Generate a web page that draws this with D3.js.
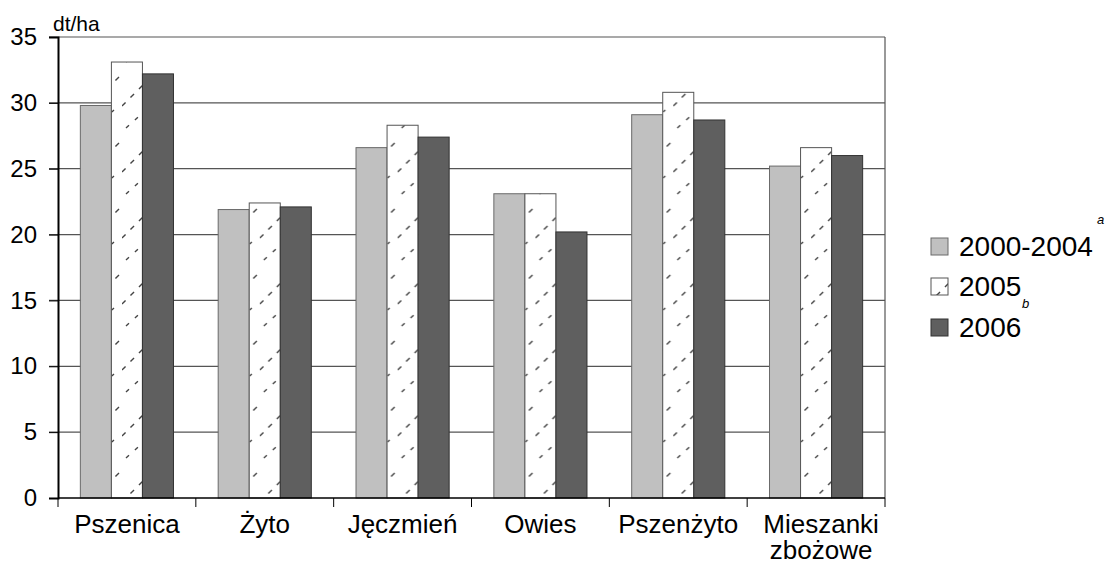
<!DOCTYPE html>
<html>
<head>
<meta charset="utf-8">
<script src="https://cdn.jsdelivr.net/npm/d3@7"></script>
<style>
  body { margin: 0; background: #fff; }
  text { font-family: "Liberation Sans", Arial, sans-serif; fill: #000; }
</style>
</head>
<body>
<svg id="chart" width="1109" height="564"></svg>
<script>
const categories = ['Pszenica', 'Żyto', 'Jęczmień', 'Owies', 'Pszenżyto', 'Mieszanki zbożowe'];
const series = ['2000-2004', '2005', '2006'];
const avg0004 = [29.8, 21.9, 26.6, 23.1, 29.1, 25.2];
const y2005 = [33.1, 22.4, 28.3, 23.1, 30.8, 26.6];
const y2006 = [32.2, 22.1, 27.4, 20.2, 28.7, 26.0];
const yTicks = [0, 5, 10, 15, 20, 25, 30, 35];

const values = [avg0004, y2005, y2006];
const fills = ['#c0c0c0', 'url(#hatch)', '#5f5f5f'];
const strokes = ['#6a6a6a', '#555', '#333'];

const svg = d3.select('#chart');
const plotL = 58, plotR = 885, plotT = 37, plotB = 498;

// hatch pattern for the 2005 series
const defs = svg.append('defs');
const pat = defs.append('pattern').attr('id', 'hatch')
    .attr('patternUnits', 'userSpaceOnUse')
    .attr('width', 32).attr('height', 66);
pat.append('rect').attr('width', 32).attr('height', 66).attr('fill', '#fff');
pat.append('line').attr('x1', 0).attr('y1', 40).attr('x2', 30).attr('y2', 10)
    .attr('stroke', '#444').attr('stroke-width', 1.4).attr('stroke-dasharray', '5,7');
pat.append('line').attr('x1', 4).attr('y1', 62).attr('x2', 24).attr('y2', 44)
    .attr('stroke', '#444').attr('stroke-width', 1.4).attr('stroke-dasharray', '4,8');

const x0 = d3.scaleBand().domain(categories).range([plotL, plotR]);
const x1 = d3.scaleBand().domain(series).range([0, x0.bandwidth()]).paddingOuter(0.72);
const y = d3.scaleLinear().domain([0, 35]).range([plotB, plotT]);

// gridlines
svg.append('g').selectAll('line').data(yTicks.filter(d => d > 0)).join('line')
    .attr('x1', plotL - 9).attr('x2', plotR)
    .attr('y1', d => y(d)).attr('y2', d => y(d))
    .attr('stroke', '#555').attr('stroke-width', 1.2);

// right border of plot
svg.append('line').attr('x1', plotR).attr('x2', plotR).attr('y1', plotT).attr('y2', plotB)
    .attr('stroke', '#555').attr('stroke-width', 1.2);

// bars
const groups = svg.append('g').selectAll('g').data(categories).join('g')
    .attr('transform', d => `translate(${x0(d)},0)`);
groups.selectAll('rect').data((c, i) => series.map((s, j) => ({s, j, v: values[j][i]}))).join('rect')
    .attr('x', d => x1(d.s))
    .attr('width', x1.bandwidth())
    .attr('y', d => y(d.v))
    .attr('height', d => y(0) - y(d.v))
    .attr('fill', d => fills[d.j])
    .attr('stroke', d => strokes[d.j])
    .attr('stroke-width', 1);

// y axis
const yAxis = svg.append('g').attr('transform', `translate(${plotL},0)`)
    .call(d3.axisLeft(y).tickValues(yTicks).tickSize(9).tickPadding(12));
yAxis.select('.domain').attr('stroke', '#000').attr('stroke-width', 2);
yAxis.selectAll('.tick line').attr('stroke', '#000');
yAxis.selectAll('.tick text').attr('font-size', 24).attr('font-family', '"Liberation Sans", Arial, sans-serif');

// x axis
svg.append('line').attr('x1', plotL).attr('x2', plotR).attr('y1', plotB).attr('y2', plotB)
    .attr('stroke', '#000').attr('stroke-width', 1.5);
const bounds = categories.map(c => x0(c)).concat([plotR]);
svg.append('g').selectAll('line').data(bounds).join('line')
    .attr('x1', d => d).attr('x2', d => d).attr('y1', plotB).attr('y2', plotB + 9)
    .attr('stroke', '#000');
const xl = svg.append('g').selectAll('text').data(categories).join('text')
    .attr('x', d => x0(d) + x0.bandwidth() / 2 + (d.includes(' ') ? 5 : 0))
    .attr('y', 533)
    .attr('text-anchor', 'middle')
    .attr('font-size', 26);
xl.each(function(d) {
  const parts = d.split(' ');
  const t = d3.select(this);
  parts.forEach((p, i) => t.append('tspan').attr('x', t.attr('x')).attr('dy', i ? 26 : 0).text(p));
});

// unit label
svg.append('text').attr('x', 53).attr('y', 31).attr('font-size', 21).text('dt/ha');

// legend
const leg = svg.append('g');
const legY = [238, 278, 319];
series.forEach((s, j) => {
  leg.append('rect').attr('x', 931).attr('y', legY[j]).attr('width', 17).attr('height', 17)
      .attr('fill', fills[j]).attr('stroke', strokes[j]);
  leg.append('text').attr('x', 959).attr('y', legY[j] + 18).attr('font-size', 28).text(s);
});
leg.append('text').attr('x', 1097).attr('y', 224).attr('font-size', 13)
    .attr('font-family', '"Liberation Serif", "Times New Roman", serif').attr('font-style', 'italic').text('a');
leg.append('text').attr('x', 1022).attr('y', 308).attr('font-size', 13)
    .attr('font-family', '"Liberation Serif", "Times New Roman", serif').attr('font-style', 'italic').text('b');
</script>
</body>
</html>
